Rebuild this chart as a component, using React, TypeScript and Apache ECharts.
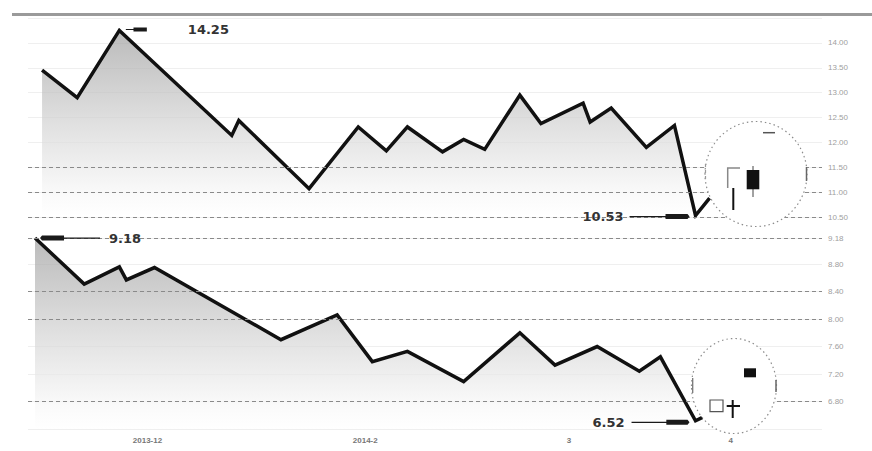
import React, { useEffect, useRef } from "react";
import * as echarts from "echarts";

// ---- data ----
const topDays = [2, 7, 13, 29, 30, 40, 47, 51, 54, 59, 62, 65, 70, 73, 79, 80, 83, 88, 92, 95, 97];
const topPrices = [13.45, 12.9, 14.25, 12.14, 12.44, 11.07, 12.31, 11.83, 12.31, 11.81, 12.06, 11.86, 12.95, 12.38, 12.79, 12.41, 12.69, 11.9, 12.34, 10.53, 10.88];
const bottomDays = [1, 8, 13, 14, 18, 36, 44, 49, 54, 62, 70, 75, 81, 87, 90, 95, 96];
const bottomPrices = [9.18, 8.51, 8.76, 8.57, 8.75, 7.7, 8.06, 7.38, 7.53, 7.09, 7.8, 7.33, 7.6, 7.24, 7.45, 6.52, 6.57];
const xLabelDays = [17, 48, 77, 100];
const xLabels = ["2013-12", "2014-2", "3", "4"];
const topDashed = [11.5, 11.0, 10.5];
const bottomDashed = [9.18, 8.4, 8.0, 6.8];

const ARROW_RIGHT = "path://M0,2 L36,2 L36,0.5 L58,0.5 L60,2.5 L58,4.5 L36,4.5 L36,3 L0,3 Z";
const ARROW_LEFT = "path://M60,2 L24,2 L24,0.5 L2,0.5 L0,2.5 L2,4.5 L24,4.5 L24,3 L60,3 Z";
const ARROW_SHORT = "path://M0,1.5 L8,1.5 L8,0 L22,0 L22,4 L8,4 L8,2.5 L0,2.5 Z";

const labelFont = {
  color: "#333",
  fontSize: 13,
  fontWeight: "bold" as const,
  fontFamily: "DejaVu Sans",
};

function areaGradient() {
  return new echarts.graphic.LinearGradient(0, 0, 0, 1, [
    { offset: 0, color: "#9e9e9e" },
    { offset: 0.5, color: "#d3d3d3" },
    { offset: 0.88, color: "#f8f8f8" },
    { offset: 1, color: "#ffffff" },
  ]);
}

function dashedLines(vals: number[]) {
  return {
    silent: true,
    symbol: ["none", "none"],
    label: { show: false },
    lineStyle: { type: [4, 3], color: "#8a8a8a", width: 1 },
    data: vals.map((v) => ({ yAxis: v })),
  };
}

export default function App() {
  const ref = useRef<HTMLDivElement>(null);
  useEffect(() => {
    if (!ref.current) return;
    const chart = echarts.init(ref.current, undefined, { renderer: "svg" });
    const fmt = (p: any) => Number(p.value).toFixed(2);
    const yLabel = {
      color: "#a0a0a0",
      fontSize: 8,
      margin: 6,
      fontFamily: "Liberation Sans",
      formatter: (v: number) => v.toFixed(2),
    };
    const option: any = {
      animation: false,
      backgroundColor: "#ffffff",
      grid: [
        { left: 28, right: 50, top: 18, height: 199 },
        { left: 28, right: 50, top: 238, height: 191 },
      ],
      xAxis: [
        { type: "value", gridIndex: 0, min: 0, max: 113, show: false },
        {
          type: "value",
          gridIndex: 1,
          min: 0,
          max: 113,
          axisLine: { show: false },
          axisTick: { show: false },
          splitLine: { show: false },
          axisLabel: {
            customValues: xLabelDays,
            color: "#777",
            fontSize: 8,
            fontWeight: "bold",
            margin: 7,
            fontFamily: "Liberation Sans",
            formatter: (v: number) => xLabels[xLabelDays.indexOf(v)] ?? "",
          },
        },
      ],
      yAxis: [
        {
          type: "value",
          gridIndex: 0,
          position: "right",
          min: 10.5,
          max: 14.5,
          interval: 0.5,
          axisLine: { show: false },
          axisTick: { show: false },
          splitLine: { lineStyle: { color: "#efefef" } },
          axisLabel: { ...yLabel, showMaxLabel: false },
        },
        {
          type: "value",
          gridIndex: 1,
          position: "right",
          min: 6.4,
          max: 9.18,
          interval: 0.4,
          axisLine: { show: false },
          axisTick: { show: false },
          splitLine: { lineStyle: { color: "#efefef" } },
          axisLabel: { ...yLabel, showMinLabel: false },
        },
      ],
      series: [
        {
          type: "line",
          xAxisIndex: 0,
          yAxisIndex: 0,
          data: topDays.map((d, i) => [d, topPrices[i]]),
          symbol: "none",
          lineStyle: { color: "#111", width: 3.5, join: "miter" },
          areaStyle: { color: areaGradient(), origin: "start" },
          markLine: dashedLines(topDashed),
          markPoint: {
            silent: true,
            symbolKeepAspect: false,
            itemStyle: { color: "#1a1a1a" },
            data: [
              {
                type: "max",
                symbol: ARROW_SHORT,
                symbolSize: [21, 4],
                symbolOffset: [17, -1],
                label: { show: true, position: "right", distance: 41, formatter: fmt, ...labelFont },
              },
              {
                type: "min",
                symbol: ARROW_RIGHT,
                symbolSize: [60, 5],
                symbolOffset: [-36, 1],
                label: { show: true, position: "left", distance: 6, formatter: fmt, ...labelFont },
              },
            ],
          },
        },
        {
          type: "line",
          xAxisIndex: 1,
          yAxisIndex: 1,
          data: bottomDays.map((d, i) => [d, bottomPrices[i]]),
          symbol: "none",
          lineStyle: { color: "#111", width: 3.5, join: "miter" },
          areaStyle: { color: areaGradient(), origin: "start" },
          markLine: dashedLines(bottomDashed),
          markPoint: {
            silent: true,
            symbolKeepAspect: false,
            itemStyle: { color: "#1a1a1a" },
            data: [
              {
                type: "max",
                symbol: ARROW_LEFT,
                symbolSize: [60, 5],
                symbolOffset: [35, 0],
                label: { show: true, position: "right", distance: 9, formatter: fmt, ...labelFont },
              },
              {
                type: "min",
                symbol: ARROW_RIGHT,
                symbolSize: [58, 5],
                symbolOffset: [-35, 1.5],
                label: { show: true, position: "left", distance: 7, formatter: fmt, ...labelFont },
              },
            ],
          },
        },
      ],
      graphic: [
        { type: "rect", z: 100, shape: { x: 12, y: 13, width: 860, height: 3 }, style: { fill: "#9a9a9a" } },
        // top ellipse + candle icons
        {
          type: "ellipse",
          z: 100,
          shape: { cx: 756, cy: 174, rx: 51, ry: 52.5 },
          style: { fill: "#ffffff", stroke: "#8c8c8c", lineWidth: 1.2, lineDash: [1.5, 3] },
        },
        { type: "line", z: 101, shape: { x1: 705.5, y1: 164, x2: 705.5, y2: 182 }, style: { stroke: "#9a9a9a", lineWidth: 1.2, lineDash: [3, 3] } },
        { type: "line", z: 101, shape: { x1: 806.5, y1: 167, x2: 806.5, y2: 181 }, style: { stroke: "#666", lineWidth: 1.5 } },
        { type: "polyline", z: 101, shape: { points: [[727.7, 188], [727.7, 168], [740, 168]] }, style: { stroke: "#888", lineWidth: 1.5, fill: null } },
        { type: "line", z: 101, shape: { x1: 733.3, y1: 188, x2: 733.3, y2: 210 }, style: { stroke: "#111", lineWidth: 2 } },
        { type: "line", z: 101, shape: { x1: 753, y1: 166, x2: 753, y2: 197 }, style: { stroke: "#444", lineWidth: 1 } },
        { type: "rect", z: 102, shape: { x: 746.7, y: 170, width: 12.6, height: 19.3 }, style: { fill: "#111" } },
        { type: "line", z: 101, shape: { x1: 763, y1: 132.7, x2: 775, y2: 132.7 }, style: { stroke: "#555", lineWidth: 1.5 } },
        // bottom ellipse + icons
        {
          type: "ellipse",
          z: 100,
          shape: { cx: 734, cy: 386, rx: 42.5, ry: 47.5 },
          style: { fill: "#ffffff", stroke: "#8c8c8c", lineWidth: 1.2, lineDash: [1.5, 3] },
        },
        { type: "line", z: 101, shape: { x1: 692.7, y1: 378, x2: 692.7, y2: 393 }, style: { stroke: "#777", lineWidth: 1.3 } },
        { type: "line", z: 101, shape: { x1: 776, y1: 380, x2: 776, y2: 392 }, style: { stroke: "#666", lineWidth: 1.5 } },
        { type: "rect", z: 101, shape: { x: 744, y: 368.3, width: 12, height: 9 }, style: { fill: "#111" } },
        { type: "rect", z: 101, shape: { x: 710, y: 400, width: 13, height: 11.7 }, style: { fill: "#fff", stroke: "#555", lineWidth: 1.2 } },
        { type: "line", z: 101, shape: { x1: 732.7, y1: 400, x2: 732.7, y2: 418 }, style: { stroke: "#111", lineWidth: 2 } },
        { type: "line", z: 101, shape: { x1: 726.7, y1: 406, x2: 740, y2: 406 }, style: { stroke: "#111", lineWidth: 2 } },
      ],
    };
    chart.setOption(option);
    return () => chart.dispose();
  }, []);
  return (
    <div
      ref={ref}
      style={{ position: "fixed", left: 0, top: 0, width: 872, height: 451, background: "#fff" }}
    />
  );
}
